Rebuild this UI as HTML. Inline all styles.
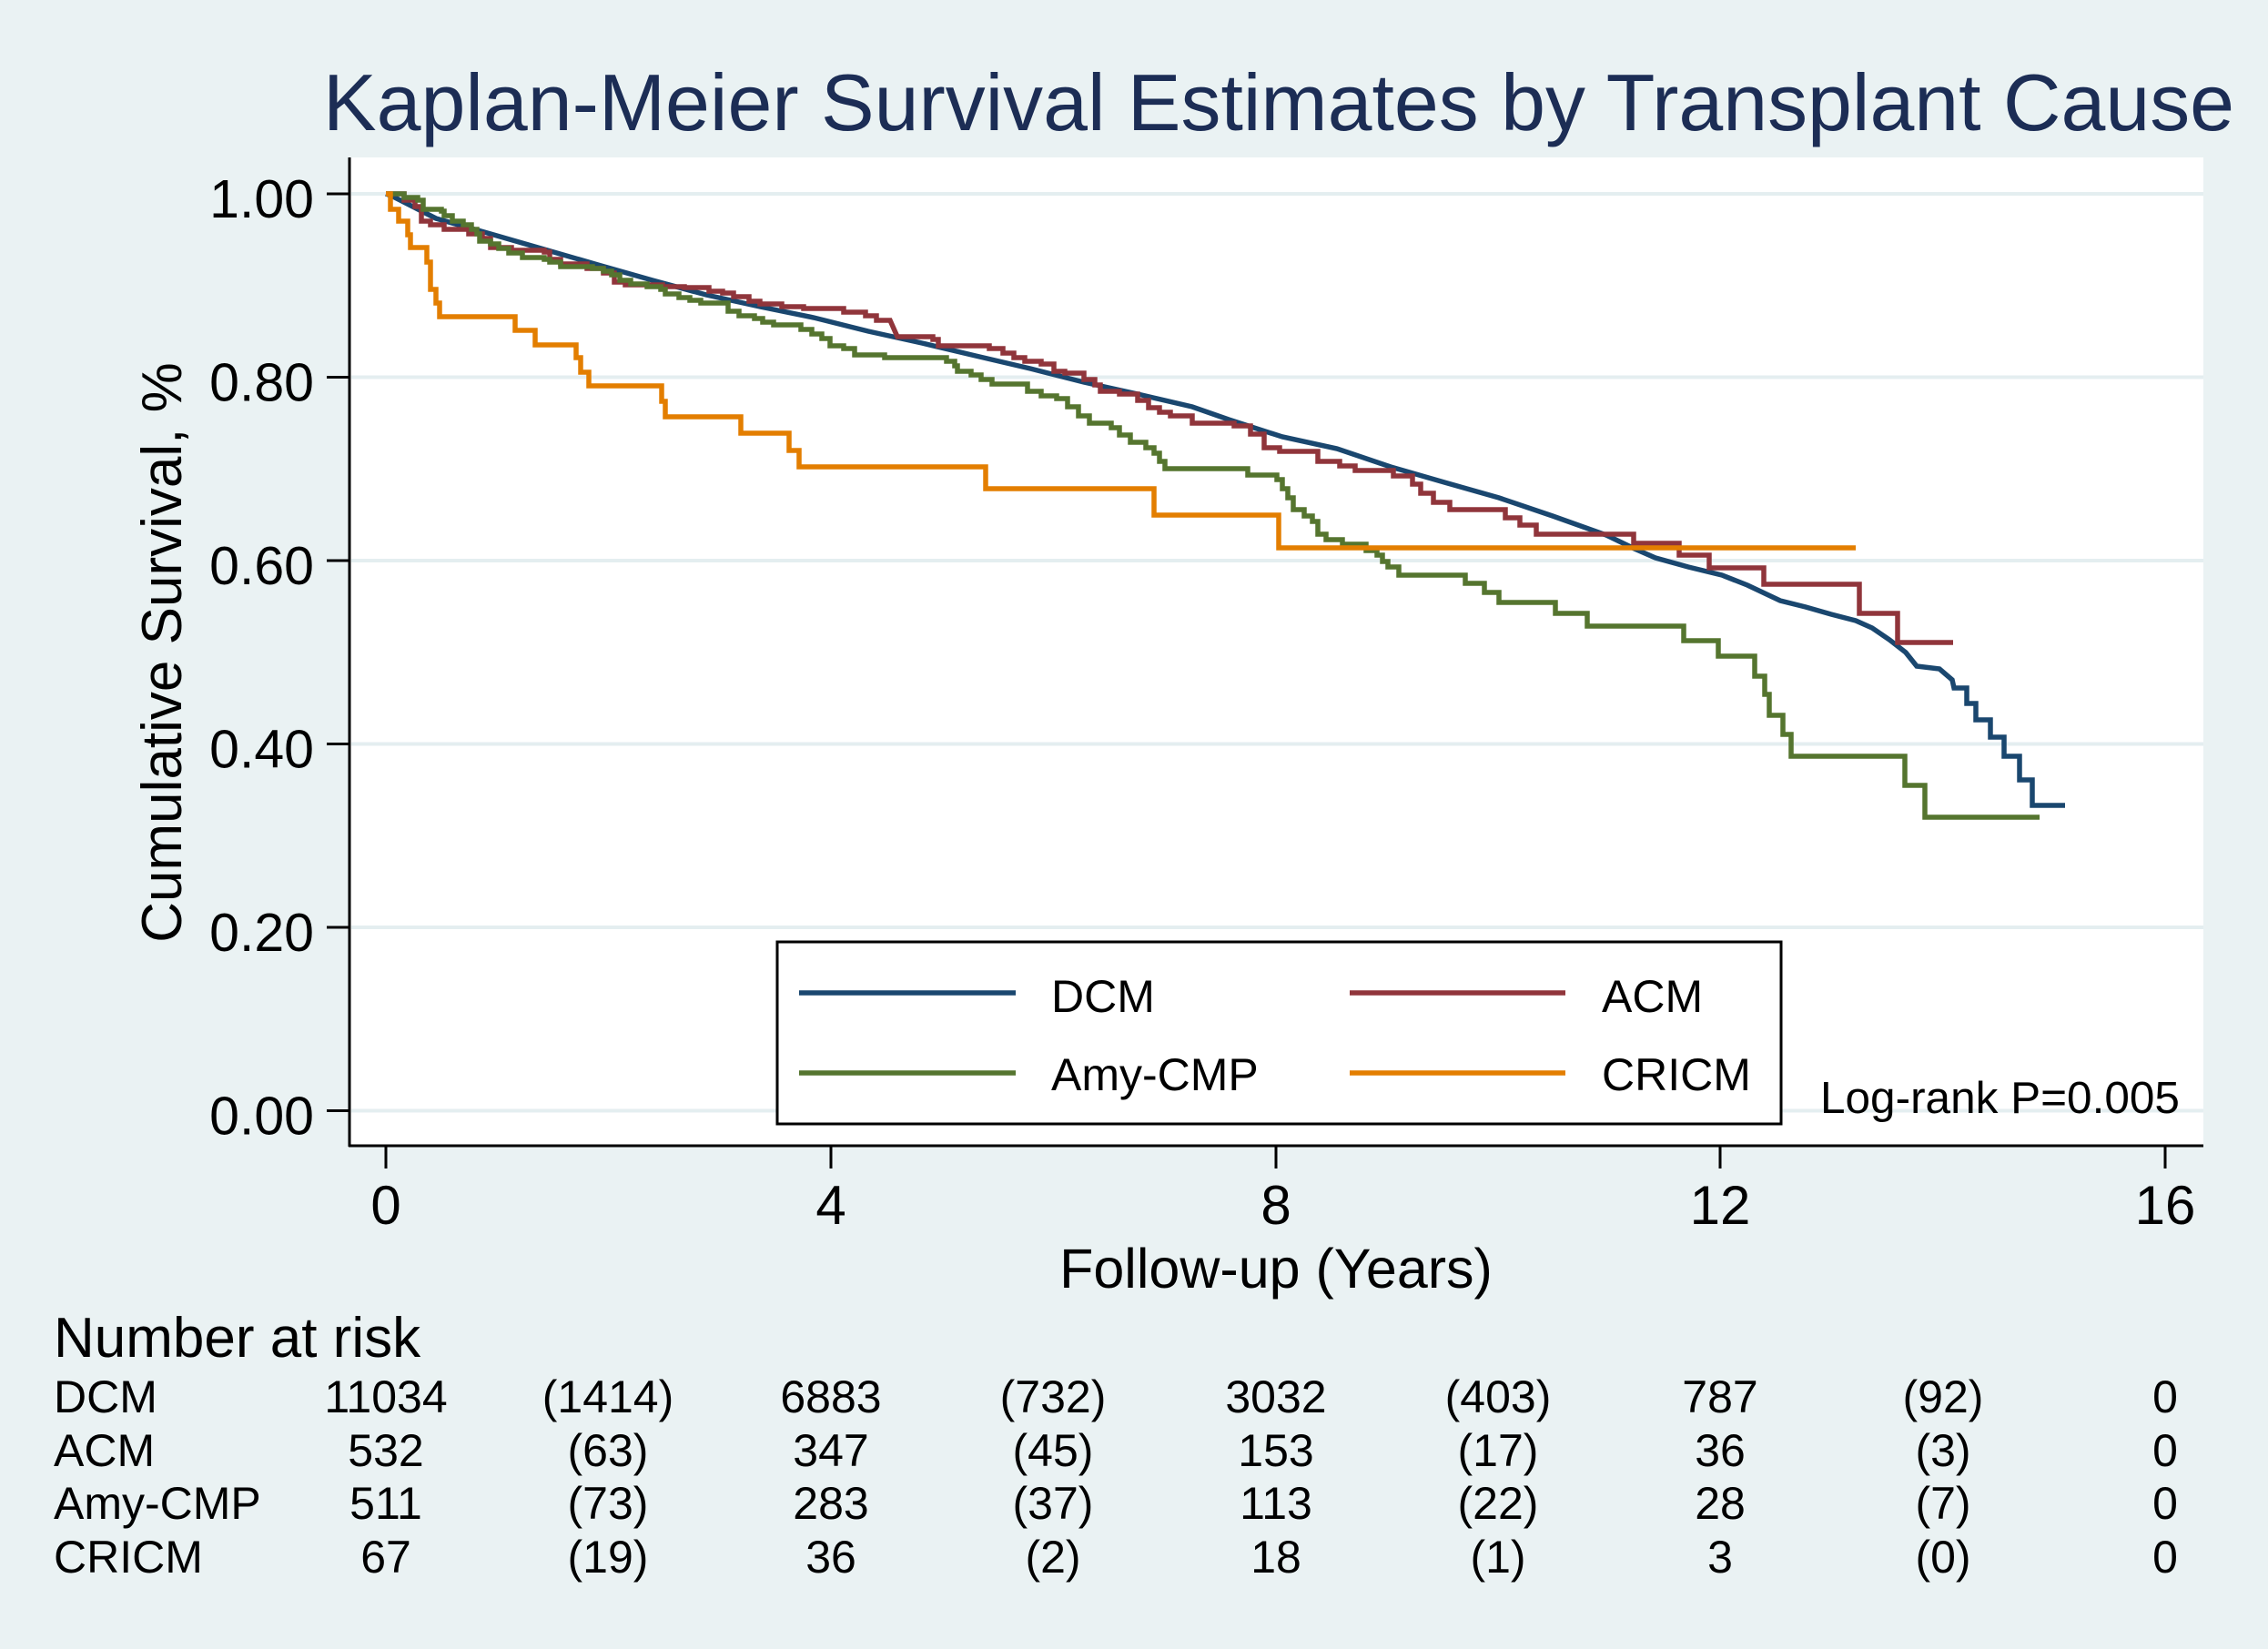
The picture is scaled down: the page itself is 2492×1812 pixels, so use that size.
<!DOCTYPE html>
<html>
<head>
<meta charset="utf-8">
<style>
html,body{margin:0;padding:0;background:#EAF2F3;}
svg{display:block;}
text{font-family:"Liberation Sans",Arial,sans-serif;}
</style>
</head>
<body>
<svg width="2492" height="1812" viewBox="0 0 2492 1812" xmlns="http://www.w3.org/2000/svg">
  <rect x="0" y="0" width="2492" height="1812" fill="#EAF2F3"/>
  <!-- Title -->
  <text x="355" y="143" font-size="88" fill="#1C2D55" textLength="2100" lengthAdjust="spacingAndGlyphs">Kaplan-Meier Survival Estimates by Transplant Cause</text>

  <!-- plot region -->
  <rect x="384" y="173" width="2037" height="1086" fill="#FFFFFF"/>
  <!-- gridlines -->
  <g stroke="#E4EEF0" stroke-width="4">
    <line x1="386" y1="213" x2="2421" y2="213"/>
    <line x1="386" y1="414.5" x2="2421" y2="414.5"/>
    <line x1="386" y1="616" x2="2421" y2="616"/>
    <line x1="386" y1="817.5" x2="2421" y2="817.5"/>
    <line x1="386" y1="1019" x2="2421" y2="1019"/>
    <line x1="386" y1="1220.5" x2="2421" y2="1220.5"/>
  </g>

  <!-- axes -->
  <g stroke="#000" stroke-width="3" fill="none">
    <line x1="384" y1="173" x2="384" y2="1260"/>
    <line x1="383" y1="1259" x2="2421" y2="1259"/>
    <line x1="359" y1="213" x2="384" y2="213"/>
    <line x1="359" y1="414.5" x2="384" y2="414.5"/>
    <line x1="359" y1="616" x2="384" y2="616"/>
    <line x1="359" y1="817.5" x2="384" y2="817.5"/>
    <line x1="359" y1="1019" x2="384" y2="1019"/>
    <line x1="359" y1="1220.5" x2="384" y2="1220.5"/>
    <line x1="424" y1="1259" x2="424" y2="1284"/>
    <line x1="913" y1="1259" x2="913" y2="1284"/>
    <line x1="1402" y1="1259" x2="1402" y2="1284"/>
    <line x1="1890" y1="1259" x2="1890" y2="1284"/>
    <line x1="2379" y1="1259" x2="2379" y2="1284"/>
  </g>

  <!-- y tick labels -->
  <g font-size="59" fill="#000" text-anchor="end">
    <text x="345" y="239">1.00</text>
    <text x="345" y="440.5">0.80</text>
    <text x="345" y="642">0.60</text>
    <text x="345" y="843.5">0.40</text>
    <text x="345" y="1045">0.20</text>
    <text x="345" y="1246.5">0.00</text>
  </g>
  <!-- y title -->
  <text transform="translate(199,717) rotate(-90)" text-anchor="middle" font-size="62" fill="#000">Cumulative Survival, %</text>

  <!-- x tick labels -->
  <g font-size="60" fill="#000" text-anchor="middle">
    <text x="424" y="1345">0</text>
    <text x="913" y="1345">4</text>
    <text x="1402" y="1345">8</text>
    <text x="1890" y="1345">12</text>
    <text x="2379" y="1345">16</text>
  </g>
  <text x="1402" y="1415" font-size="61" fill="#000" text-anchor="middle">Follow-up (Years)</text>

  <!-- curves -->
  <g fill="none" stroke-width="5.5" stroke-linejoin="miter" stroke-linecap="butt">
    <path stroke="#1A476F" d="M424,213 L430,215 L479,240 L539,257 L598,274 L657,291 L717,308 L776,324 L835,337 L894,349 L954,364 L1013,377 L1072,391 L1132,405 L1191,420 L1250,433 L1310,447 L1350,461 L1409,480 L1469,493 L1528,513 L1587,530 L1647,547 L1706,567 L1765,588 L1796,603 L1819,613 L1855,623 L1892,632 L1920,643 L1956,660 L1984,667 L2012,675 L2039,682 L2057,690 L2076,703 L2094,717 L2106,732 L2131,735 L2145,747 L2147,756 H2161 V773 H2171 V791 H2187 V810 H2202 V831 H2219 V857 H2233 V885 H2269"/>
    <path stroke="#90353B" d="M424,213 H444 V220 H456 V227 H463 V243 H473 V247 H488 V252 H515 V257 H530 V262 H539 V272 H562 V275 H598 V277 H604 V285 H616 V290 H645 V295 H663 V300 H675 V310 H687 V313 H728 V315 H752 V316 H779 V320 H794 V322 H806 V326 H823 V331 H835 V334 H859 V337 H883 V339 H927 V343 H951 V347 H963 V352 H978 L986,370 H1025 V373 H1031 V380 H1087 V383 H1102 V388 H1114 V393 H1126 V397 H1144 V400 H1158 V408 H1170 V410 H1191 V417 H1203 V423 H1209 V430 H1230 V433 H1250 V440 H1262 V448 H1274 V453 H1286 V457 H1310 V465 H1356 V468 H1374 V477 H1389 V492 H1406 V496 H1448 V507 H1472 V512 H1489 V517 H1531 V523 H1552 V532 H1561 V542 H1575 V552 H1593 V560 H1654 V569 H1670 V577 H1688 V587 H1795 V597 H1845 V610 H1878 V624 H1938 V642 H2043 V674 H2085 V706 H2146"/>
    <path stroke="#55752F" d="M424,213 H444 V217 H459 V220 H465 V230 H485 V232 H488 V237 H497 V243 H509 V247 H518 V252 H524 V257 H527 V265 H539 V268 H548 V273 H559 V278 H574 V283 H598 V285 H604 V288 H616 V293 H651 V295 H663 V298 H672 V302 H681 V308 H693 V312 H711 V315 H726 V318 H731 V323 H746 V327 H758 V330 H770 V333 H800 V342 H812 V347 H829 V350 H838 V354 H850 V357 H880 V362 H892 V367 H903 V372 H912 V380 H927 V383 H939 V390 H972 V393 H1040 V397 H1049 V402 H1052 V408 H1067 V412 H1078 V417 H1090 V422 H1129 V430 H1144 V435 H1161 V438 H1173 V447 H1185 V457 H1197 V465 H1221 V470 H1230 V478 H1242 V486 H1259 V492 H1268 V498 H1274 V507 H1280 V515 H1371 V522 H1403 V527 H1409 V537 H1415 V547 H1421 V560 H1433 V567 H1442 V573 H1448 V587 H1457 V593 H1475 V598 H1501 V605 H1513 V610 H1519 V617 H1525 V623 H1537 V632 H1610 V641 H1631 V651 H1647 V662 H1709 V674 H1744 V688 H1850 V704 H1888 V721 H1928 V743 H1939 V763 H1944 V786 H1959 V807 H1968 V831 H2093 V863 H2115 V898 H2241"/>
    <path stroke="#E37E00" d="M424,213 H429 V230 H438 V243 H448 V258 H451 V272 H469 V288 H473 V318 H479 V333 H483 V348 H566 V363 H588 V379 H633 V393 H638 V409 H647 V424 H727 V441 H731 V458 H814 V476 H867 V495 H878 V513 H1083 V537 H1268 V566 H1405 V602 H2039"/>
  </g>

  <!-- legend -->
  <rect x="854" y="1035" width="1103" height="200" fill="#FFFFFF" stroke="#000" stroke-width="3"/>
  <g stroke-width="5.5">
    <line x1="878" y1="1091" x2="1116" y2="1091" stroke="#1A476F"/>
    <line x1="1483" y1="1091" x2="1720" y2="1091" stroke="#90353B"/>
    <line x1="878" y1="1179" x2="1116" y2="1179" stroke="#55752F"/>
    <line x1="1483" y1="1179" x2="1720" y2="1179" stroke="#E37E00"/>
  </g>
  <g font-size="50" fill="#000">
    <text x="1155" y="1112">DCM</text>
    <text x="1760" y="1112">ACM</text>
    <text x="1155" y="1198">Amy-CMP</text>
    <text x="1760" y="1198">CRICM</text>
  </g>
  <text x="2000" y="1223" font-size="49.5" fill="#000">Log-rank P=0.005</text>

  <!-- Number at risk -->
  <text x="59" y="1491" font-size="62" fill="#000">Number at risk</text>
  <g font-size="50" fill="#000">
    <text x="59" y="1552">DCM</text>
    <text x="59" y="1611">ACM</text>
    <text x="59" y="1669">Amy-CMP</text>
    <text x="59" y="1728">CRICM</text>
  </g>
  <g font-size="50" fill="#000" text-anchor="middle">
    <text x="424" y="1552">11034</text><text x="668" y="1552">(1414)</text><text x="913" y="1552">6883</text><text x="1157" y="1552">(732)</text><text x="1402" y="1552">3032</text><text x="1646" y="1552">(403)</text><text x="1890" y="1552">787</text><text x="2135" y="1552">(92)</text><text x="2379" y="1552">0</text>
    <text x="424" y="1611">532</text><text x="668" y="1611">(63)</text><text x="913" y="1611">347</text><text x="1157" y="1611">(45)</text><text x="1402" y="1611">153</text><text x="1646" y="1611">(17)</text><text x="1890" y="1611">36</text><text x="2135" y="1611">(3)</text><text x="2379" y="1611">0</text>
    <text x="424" y="1669">511</text><text x="668" y="1669">(73)</text><text x="913" y="1669">283</text><text x="1157" y="1669">(37)</text><text x="1402" y="1669">113</text><text x="1646" y="1669">(22)</text><text x="1890" y="1669">28</text><text x="2135" y="1669">(7)</text><text x="2379" y="1669">0</text>
    <text x="424" y="1728">67</text><text x="668" y="1728">(19)</text><text x="913" y="1728">36</text><text x="1157" y="1728">(2)</text><text x="1402" y="1728">18</text><text x="1646" y="1728">(1)</text><text x="1890" y="1728">3</text><text x="2135" y="1728">(0)</text><text x="2379" y="1728">0</text>
  </g>
</svg>
</body>
</html>
